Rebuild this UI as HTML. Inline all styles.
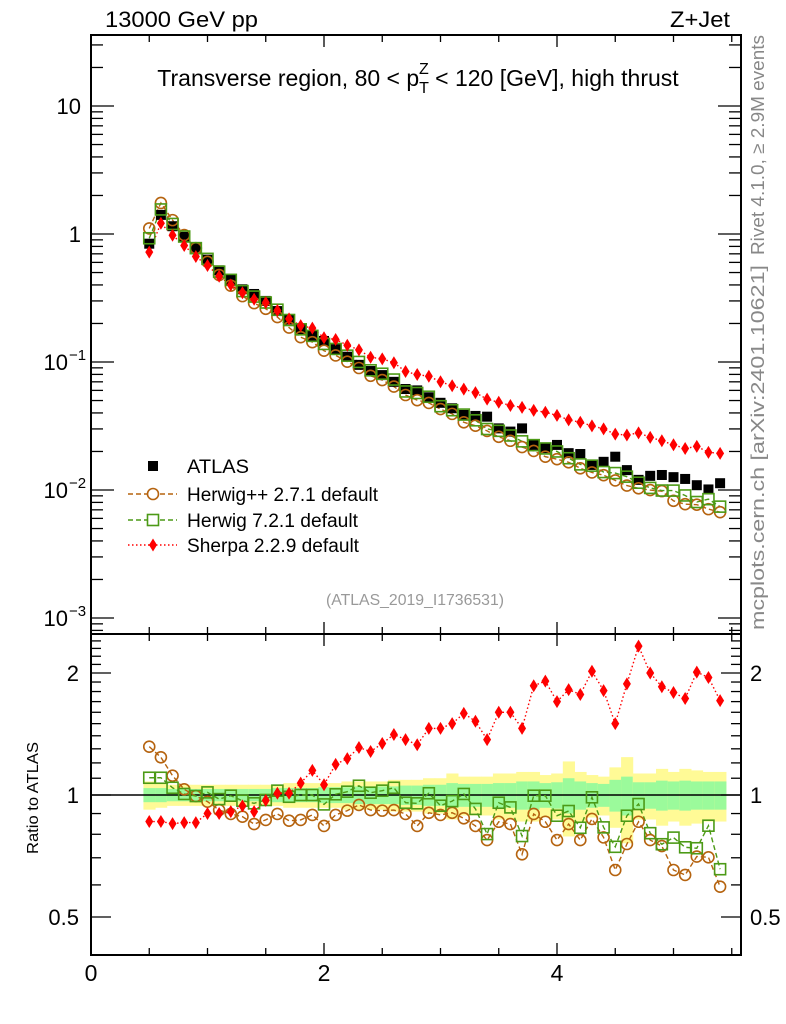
<!DOCTYPE html>
<html><head><meta charset="utf-8">
<style>
html,body{margin:0;padding:0;background:#fff;}
svg{display:block;font-family:"Liberation Sans",sans-serif;}
</style></head>
<body>
<svg id="chart" width="786" height="1024" viewBox="0 0 786 1024" xmlns="http://www.w3.org/2000/svg">
<defs>
<clipPath id="clipMain"><rect x="91" y="35" width="650" height="599"/></clipPath>
<clipPath id="clipRatio"><rect x="91" y="634" width="650" height="321"/></clipPath>
</defs>
<text x="105" y="27" font-size="22" textLength="153" lengthAdjust="spacingAndGlyphs">13000 GeV pp</text>
<text x="670" y="27" font-size="22" textLength="60" lengthAdjust="spacingAndGlyphs">Z+Jet</text>
<text x="418" y="86" font-size="23" text-anchor="middle">Transverse region, 80 &lt; p<tspan font-size="16" dy="7">T</tspan><tspan font-size="16" dx="-10" dy="-19">Z</tspan><tspan dy="12"> &lt; 120 [GeV], high thrust</tspan></text>
<text transform="translate(764,35) rotate(-90)" font-size="18" fill="#888" text-anchor="end" textLength="220" lengthAdjust="spacingAndGlyphs">Rivet 4.1.0, ≥ 2.9M events</text>
<text transform="translate(764,630) rotate(-90)" font-size="18" fill="#888" textLength="365" lengthAdjust="spacingAndGlyphs">mcplots.cern.ch [arXiv:2401.10621]</text>
<text transform="translate(38,798) rotate(-90)" font-size="16" text-anchor="middle" textLength="112" lengthAdjust="spacingAndGlyphs">Ratio to ATLAS</text>
<text x="326" y="605" font-size="16" fill="#999" textLength="178" lengthAdjust="spacingAndGlyphs">(ATLAS_2019_I1736531)</text>
<g id="bands" clip-path="url(#clipRatio)"></g>
<g id="axes"></g>
<g id="mainSeries" clip-path="url(#clipMain)"></g>
<g id="ratioSeries" clip-path="url(#clipRatio)"></g>
<g id="legend"></g>
</svg>
<script>
const xValues = [0.5,0.6,0.7,0.8,0.9,1.0,1.1,1.2,1.3,1.4,1.5,1.6,1.7,1.8,1.9,2.0,2.1,2.2,2.3,2.4,2.5,2.6,2.7,2.8,2.9,3.0,3.1,3.2,3.3,3.4,3.5,3.6,3.7,3.8,3.9,4.0,4.1,4.2,4.3,4.4,4.5,4.6,4.7,4.8,4.9,5.0,5.1,5.2,5.3,5.4];
const atlasValues = [0.84,1.41,1.15,0.95,0.78,0.63,0.52,0.44,0.37,0.34,0.30,0.25,0.215,0.18,0.16,0.146,0.126,0.11,0.095,0.085,0.079,0.070,0.0615,0.060,0.053,0.048,0.0435,0.0386,0.0379,0.0374,0.0303,0.0286,0.0303,0.0225,0.0212,0.0225,0.0194,0.0191,0.0157,0.0166,0.0182,0.0143,0.0120,0.0129,0.0131,0.0126,0.0122,0.0109,0.0101,0.0113];
const herwigppRatio = [1.316,1.239,1.116,1.033,0.994,0.963,0.918,0.898,0.884,0.848,0.868,0.898,0.864,0.868,0.893,0.839,0.893,0.915,0.945,0.918,0.915,0.918,0.898,0.839,0.904,0.893,0.904,0.876,0.839,0.774,0.859,0.848,0.714,0.898,0.859,0.774,0.848,0.774,0.873,0.786,0.653,0.757,0.859,0.774,0.748,0.653,0.635,0.705,0.702,0.594];
const herwig7Ratio = [1.103,1.103,1.042,1.006,0.994,1.015,0.977,0.996,0.968,0.954,0.972,1.025,0.990,1.0,1.0,0.948,1.004,1.019,1.054,1.013,1.025,1.042,0.957,0.954,1.01,0.941,0.966,1.006,0.924,0.801,0.957,0.932,0.792,0.996,0.996,0.889,0.913,0.830,0.987,0.832,0.745,0.889,0.950,0.805,0.756,0.785,0.743,0.739,0.840,0.656];
const sherpaRatio = [0.86,0.86,0.85,0.855,0.855,0.90,0.90,0.91,0.94,0.91,0.97,1.01,1.01,1.07,1.15,1.06,1.19,1.23,1.31,1.28,1.34,1.41,1.37,1.33,1.46,1.46,1.50,1.59,1.52,1.37,1.60,1.60,1.46,1.86,1.91,1.70,1.82,1.77,2.02,1.81,1.50,1.88,2.33,2.0,1.85,1.79,1.73,2.01,1.95,1.71];
const errTotal = [0.08,0.07,0.06,0.06,0.06,0.06,0.06,0.06,0.06,0.06,0.06,0.06,0.07,0.07,0.07,0.07,0.07,0.08,0.08,0.08,0.08,0.09,0.09,0.09,0.10,0.10,0.13,0.11,0.11,0.11,0.13,0.13,0.14,0.14,0.12,0.13,0.21,0.14,0.12,0.11,0.17,0.24,0.13,0.13,0.16,0.14,0.16,0.15,0.14,0.14];
const errStat = [0.04,0.04,0.035,0.035,0.035,0.035,0.035,0.035,0.035,0.035,0.035,0.04,0.04,0.04,0.04,0.045,0.045,0.045,0.05,0.05,0.05,0.05,0.055,0.055,0.06,0.06,0.07,0.065,0.065,0.065,0.07,0.07,0.08,0.08,0.07,0.075,0.1,0.08,0.07,0.065,0.09,0.11,0.075,0.075,0.085,0.08,0.085,0.08,0.08,0.08];
const xTickLabels = ["0","2","4"];
const mainTickLabels = ["10","1","10","10","10"];
const ratioTickLabels = ["0.5","1","2"];

const NS="http://www.w3.org/2000/svg";
const X0=91,X1=741,MT=35,MB=634,RB=955;
function xs(v){return 91+v*116.5;}
function ym(v){return 234-128*Math.log10(v);}
function yr(v){return 795-122*Math.log2(v);}
function mk(tag,attrs,parent){const e=document.createElementNS(NS,tag);for(const k in attrs)e.setAttribute(k,attrs[k]);parent.appendChild(e);return e;}
const axes=document.getElementById('axes');
const bands=document.getElementById('bands');
const ms=document.getElementById('mainSeries');
const rs=document.getElementById('ratioSeries');
const lg=document.getElementById('legend');

xValues.forEach((x,i)=>{
  const a=xs(x-0.05),w=116.5*0.1;
  let r=mk('rect',{x:a,y:yr(1+errTotal[i]),width:w+0.5,height:yr(1-errTotal[i])-yr(1+errTotal[i]),fill:'#fffa96'},bands);
  
  
  let g=mk('rect',{x:a,y:yr(1+errStat[i]),width:w+0.5,height:yr(1-errStat[i])-yr(1+errStat[i]),fill:'#9bfa9b'},bands);
  
  
});
let f1=mk('rect',{x:X0,y:MT,width:X1-X0,height:MB-MT,fill:'none',stroke:'#000','stroke-width':2},axes);


let f2=mk('rect',{x:X0,y:MB,width:X1-X0,height:RB-MB,fill:'none',stroke:'#000','stroke-width':2},axes);


let ref=mk('line',{x1:X0,x2:X1,y1:yr(1),y2:yr(1),stroke:'#000','stroke-width':1.5},axes);


for(let k=0;k<=11;k++){
  const v=k*0.5,x=xs(v),maj=(k%4===0),L=maj?12:7;
  [[MT,MT+L],[MB-L,MB],[MB,MB+L],[RB-L,RB]].forEach(p=>{mk('line',{x1:x,x2:x,y1:p[0],y2:p[1],stroke:'#000','stroke-width':1.3},axes);});
  if(maj){let t=mk('text',{x:x,y:981,'font-size':23,'text-anchor':'middle'},axes);t.textContent=xTickLabels[k/4];
    
    }
}
for(let d=1;d>=-4;d--){
  for(let m=1;m<=9;m++){
    const v=m*Math.pow(10,d),y=ym(v);
    if(y<MT||y>MB)continue;
    const L=m===1?23:12;
    mk('line',{x1:X0,x2:X0+L,y1:y,y2:y,stroke:'#000','stroke-width':1.3},axes);
    mk('line',{x1:X1-L,x2:X1,y1:y,y2:y,stroke:'#000','stroke-width':1.3},axes);
    if(m===1){const idx=1-d;
      let t=mk('text',{x:idx<2?81:68,y:y+8,'font-size':22,'text-anchor':'end'},axes);
      t.textContent=mainTickLabels[idx];
      if(idx>=2){let s=mk('text',{x:69,y:y-2,'font-size':15},axes);s.textContent='\u2212'+(idx-1);
        
        }
      
      }
  }
}
const rt=[0.4,0.5,0.6,0.7,0.8,0.9,1.0,1.1,1.2,1.3,1.4,1.5,1.6,1.7,1.8,1.9,2.0,2.1,2.2,2.3,2.4,2.5];
rt.forEach(v=>{const y=yr(v);if(y<MB||y>RB)return;
  const maj=[0.5,1,2].some(m=>Math.abs(m-v)<1e-6),L=maj?20:10;
  mk('line',{x1:X0,x2:X0+L,y1:y,y2:y,stroke:'#000','stroke-width':1.3},axes);
  mk('line',{x1:X1-L,x2:X1,y1:y,y2:y,stroke:'#000','stroke-width':1.3},axes);
});
[0.5,1,2].forEach((v,i)=>{const y=yr(v);
  let t=mk('text',{x:79,y:y+8,'font-size':22,'text-anchor':'end'},axes);t.textContent=ratioTickLabels[i];
  
  
  let t2=mk('text',{x:750,y:y+8,'font-size':22},axes);t2.textContent=ratioTickLabels[i];
  
  
});

function marker(kind,cx,cy,parent,color){
  let e;
  if(kind==='sq') e=mk('rect',{x:cx-5,y:cy-5,width:10,height:10,fill:'#000'},parent);
  else if(kind==='circ') e=mk('circle',{cx:cx,cy:cy,r:5.5,fill:'none',stroke:color,'stroke-width':1.6},parent);
  else if(kind==='osq') e=mk('rect',{x:cx-5.5,y:cy-5.5,width:11,height:11,fill:'none',stroke:color,'stroke-width':1.6},parent);
  else e=mk('path',{d:`M${cx} ${cy-6.5}L${cx+4} ${cy}L${cx} ${cy+6.5}L${cx-4} ${cy}Z`,fill:color},parent);
  return e;
}
const series=[
  {name:'herwigpp',ratio:herwigppRatio,color:'#b5630f',kind:'circ',dash:'5,3'},
  {name:'herwig7',ratio:herwig7Ratio,color:'#4c9a16',kind:'osq',dash:'5,3'},
  {name:'sherpa',ratio:sherpaRatio,color:'#ff0000',kind:'dia',dash:'1.5,2.5'}
];
series.forEach(s=>{
  const pm=xValues.map((x,i)=>[xs(x),ym(atlasValues[i]*s.ratio[i])]);
  const pr=xValues.map((x,i)=>[xs(x),yr(s.ratio[i])]);
  let l1=mk('polyline',{points:pm.map(p=>p.join(',')).join(' '),fill:'none',stroke:s.color,'stroke-width':1.4,'stroke-dasharray':s.dash},ms);
  
  
  let l2=mk('polyline',{points:pr.map(p=>p.join(',')).join(' '),fill:'none',stroke:s.color,'stroke-width':1.4,'stroke-dasharray':s.dash},rs);
  
  
  s.pm=pm;s.pr=pr;
});
xValues.forEach((x,i)=>{
  let e=marker('sq',xs(x),ym(atlasValues[i]),ms);
  
  
});
series.forEach(s=>{
  s.pm.forEach(p=>{let e=marker(s.kind,p[0],p[1],ms,s.color);
    
    });
  s.pr.forEach(p=>{let e=marker(s.kind,p[0],p[1],rs,s.color);
    
    });
});
const legendLabels=['ATLAS','Herwig++ 2.7.1 default','Herwig 7.2.1 default','Sherpa 2.2.9 default'];
const legendY=[466,494,520,545];
const legendW=[62,191,171,172];
legendLabels.forEach((lab,i)=>{
  const g=mk('g',{},lg);
  
  
  const y=legendY[i];
  if(i===0){marker('sq',153,y,g);}
  else{const s=series[i-1];
    mk('line',{x1:128,x2:177,y1:y,y2:y,stroke:s.color,'stroke-width':1.4,'stroke-dasharray':s.dash},g);
    const m=marker(s.kind,153,y,g,s.color);if(s.kind!=='dia')m.setAttribute('fill','#fff');}
  const t=mk('text',{x:187,y:y+7,'font-size':19,textLength:legendW[i],lengthAdjust:'spacingAndGlyphs'},g);t.textContent=lab;
});
</script>
</body></html>
